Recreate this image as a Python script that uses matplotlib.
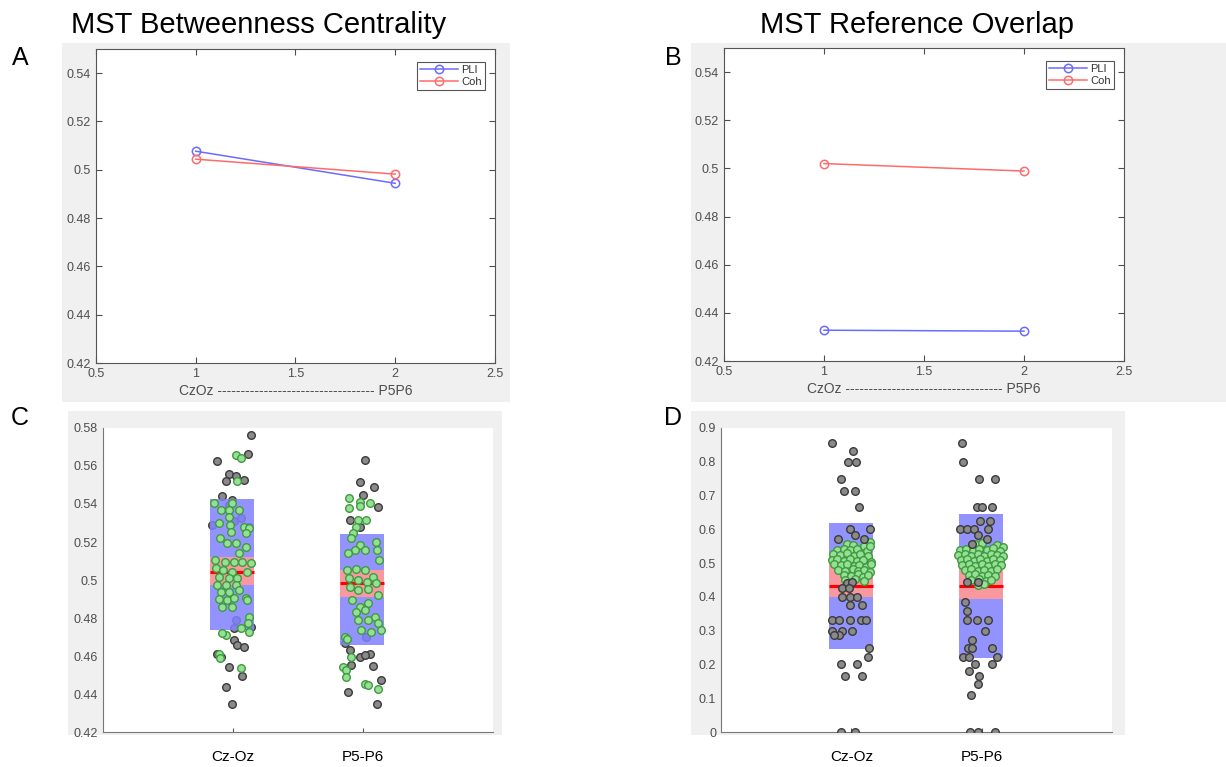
import matplotlib
matplotlib.use('Agg')
import matplotlib.pyplot as plt
from matplotlib.patches import Rectangle

plt.rcParams['font.family'] = ['Liberation Sans', 'DejaVu Sans']

# top panels: mean values per electrode pair
pair_x = [1, 2]
bc_pli = [0.5077, 0.4944]
bc_coh = [0.5044, 0.4982]
ro_pli = [0.4328, 0.4324]
ro_coh = [0.5020, 0.4989]

cats = ['Cz-Oz', 'P5-P6']

# panel C summary: mean, sem band (lo, hi), sd box (lo, hi)
c_mean = [0.5044, 0.4983]
c_sem = [(0.4974, 0.5123), (0.4912, 0.5053)]
c_sd = [(0.4735, 0.5427), (0.4656, 0.5244)]

# panel D summary
d_mean = [0.433, 0.433]
d_sem = [(0.400, 0.530), (0.395, 0.529)]
d_sd = [(0.247, 0.620), (0.220, 0.645)]

# jittered points (offset from category, value)
c_gray1 = [(0.14, 0.5765), (-0.12, 0.5624), (0.117, 0.5665), (-0.031, 0.5557), (0.025, 0.5549),
           (-0.056, 0.5519), (0.084, 0.5528), (-0.087, 0.5440), (-0.005, 0.5422), (-0.158, 0.5290),
           (0.059, 0.5325), (0.008, 0.5308), (0.122, 0.5281), (0.025, 0.4789), (0.008, 0.4745),
           (0.135, 0.4754), (0.008, 0.4684), (0.033, 0.4657), (0.084, 0.4648), (-0.12, 0.4613),
           (-0.094, 0.4596), (-0.031, 0.4543), (-0.051, 0.4438), (-0.005, 0.4350), (0.071, 0.4495),
           (-0.031, 0.5396)]
c_green1 = [(0.02, 0.5656), (0.059, 0.5642), (0.033, 0.5519), (-0.145, 0.5404), (-0.005, 0.5404),
            (-0.094, 0.5369), (-0.031, 0.5369), (0.046, 0.5369), (-0.031, 0.5334), (-0.107, 0.5299),
            (-0.025, 0.5290), (0.084, 0.5281), (0.127, 0.5272), (0.097, 0.5246), (-0.018, 0.5255),
            (-0.102, 0.5220), (-0.043, 0.5197), (0.02, 0.5193), (0.102, 0.5176), (0.046, 0.5141),
            (-0.137, 0.5106), (-0.061, 0.5097), (0.008, 0.5097), (0.071, 0.5097), (0.135, 0.5088),
            (-0.132, 0.5062), (-0.076, 0.5053), (-0.005, 0.5044), (0.109, 0.5044), (-0.107, 0.5018),
            (-0.031, 0.5009), (0.033, 0.5009), (-0.12, 0.4974), (-0.056, 0.4974), (0.02, 0.4974),
            (-0.094, 0.4938), (-0.031, 0.4938), (0.046, 0.4947), (-0.107, 0.4898), (-0.043, 0.4895),
            (0.008, 0.4903), (0.097, 0.4903), (-0.081, 0.4859), (-0.005, 0.4859), (0.109, 0.4895),
            (0.122, 0.4807), (0.117, 0.4772), (0.059, 0.4745), (0.127, 0.4728), (-0.056, 0.4710),
            (-0.081, 0.4719), (-0.107, 0.4613), (-0.102, 0.4587), (0.059, 0.4538)]
c_gray2 = [(0.018, 0.5629), (-0.025, 0.5515), (0.0, 0.5448), (0.084, 0.5492), (0.115, 0.5383),
           (-0.102, 0.5317), (-0.025, 0.5278), (0.025, 0.4701), (-0.14, 0.4666), (-0.102, 0.4631),
           (-0.025, 0.4596), (0.051, 0.4613), (0.013, 0.4604), (0.076, 0.4546), (-0.089, 0.4552),
           (0.135, 0.4473), (-0.115, 0.4411), (0.109, 0.4350)]
c_green2 = [(-0.107, 0.5434), (-0.025, 0.5413), (0.051, 0.5404), (-0.109, 0.5378), (-0.025, 0.5390),
            (-0.038, 0.5317), (0.025, 0.5317), (-0.051, 0.5281), (-0.076, 0.5246), (-0.089, 0.5220),
            (-0.025, 0.5185), (-0.059, 0.5158), (-0.115, 0.5141), (0.013, 0.5158), (0.102, 0.5202),
            (0.109, 0.5158), (0.127, 0.5106), (-0.12, 0.5053), (-0.051, 0.5058), (0.013, 0.5053),
            (0.076, 0.5018), (-0.109, 0.5009), (-0.038, 0.5000), (0.033, 0.4991), (0.102, 0.4983),
            (-0.102, 0.4965), (-0.038, 0.4947), (0.038, 0.4951), (0.115, 0.4921), (-0.084, 0.4895),
            (-0.025, 0.4859), (0.038, 0.4877), (-0.051, 0.4833), (0.013, 0.4842), (0.089, 0.4807),
            (-0.038, 0.4789), (0.038, 0.4789), (0.115, 0.4772), (-0.013, 0.4736), (0.064, 0.4728),
            (0.14, 0.4736), (-0.14, 0.4701), (-0.12, 0.4687), (-0.089, 0.4596), (-0.153, 0.4543),
            (-0.127, 0.4525), (-0.127, 0.4490), (0.013, 0.4455), (0.038, 0.4446), (0.115, 0.4429)]

d_gray1 = [(-0.15, 0.857), (0.015, 0.833), (-0.023, 0.8), (0.038, 0.8), (-0.081, 0.75),
           (-0.056, 0.714), (0.025, 0.714), (0.059, 0.667), (-0.013, 0.6), (0.14, 0.6),
           (-0.099, 0.571), (0.028, 0.583), (0.097, 0.571), (-0.031, 0.44), (0.008, 0.444),
           (-0.069, 0.425), (-0.018, 0.425), (-0.069, 0.4), (-0.013, 0.4), (0.046, 0.4),
           (-0.013, 0.375), (0.084, 0.375), (-0.145, 0.333), (-0.094, 0.333), (-0.013, 0.333),
           (0.071, 0.333), (0.115, 0.333), (-0.145, 0.3), (-0.069, 0.3), (0.003, 0.3),
           (-0.094, 0.286), (-0.13, 0.286), (0.135, 0.25), (0.13, 0.222), (-0.081, 0.2),
           (0.041, 0.2), (-0.051, 0.167), (0.084, 0.167), (-0.081, 0.0), (0.028, 0.0)]
d_gray2 = [(-0.153, 0.857), (-0.145, 0.8), (-0.018, 0.75), (0.102, 0.75), (-0.038, 0.667),
           (0.0, 0.667), (0.076, 0.667), (-0.013, 0.625), (0.064, 0.625), (-0.165, 0.6),
           (-0.115, 0.6), (-0.056, 0.6), (0.051, 0.6), (-0.025, 0.583), (-0.076, 0.556),
           (0.038, 0.571), (-0.115, 0.444), (-0.025, 0.444), (-0.127, 0.385), (-0.115, 0.357),
           (-0.115, 0.333), (-0.038, 0.333), (0.051, 0.333), (0.025, 0.3), (-0.076, 0.273),
           (-0.102, 0.25), (-0.076, 0.25), (0.076, 0.25), (-0.14, 0.222), (-0.097, 0.222),
           (0.12, 0.222), (-0.051, 0.2), (0.076, 0.2), (-0.097, 0.182), (-0.02, 0.167),
           (-0.025, 0.143), (-0.081, 0.111), (-0.089, 0.0), (-0.025, 0.0), (0.102, 0.0)]
d_green1 = [(-0.03, 0.556), (0.01, 0.553), (0.10, 0.550), (0.14, 0.562),
            (-0.11, 0.540), (-0.06, 0.543), (-0.01, 0.538), (0.04, 0.541), (0.12, 0.536),
            (-0.14, 0.527), (-0.09, 0.524), (-0.03, 0.529), (0.02, 0.522), (0.07, 0.526), (0.13, 0.520),
            (-0.15, 0.510), (-0.11, 0.513), (-0.06, 0.507), (-0.01, 0.511), (0.04, 0.505), (0.09, 0.509),
            (0.15, 0.503), (-0.13, 0.496), (-0.08, 0.493), (-0.03, 0.498), (0.02, 0.491), (0.06, 0.495),
            (0.11, 0.489), (0.15, 0.497), (-0.10, 0.481), (-0.05, 0.478), (0.01, 0.483), (0.05, 0.476),
            (0.10, 0.480), (0.14, 0.474), (-0.06, 0.466), (0.0, 0.462), (0.05, 0.468), (0.09, 0.460),
            (0.13, 0.465), (-0.05, 0.449), (0.03, 0.452), (0.10, 0.447), (0.14, 0.550)]
d_green2 = [(-0.05, 0.556), (0.0, 0.559), (0.12, 0.553), (0.16, 0.548),
            (-0.17, 0.540), (-0.12, 0.543), (-0.07, 0.537), (-0.02, 0.541), (0.04, 0.538), (0.09, 0.544),
            (0.14, 0.536), (-0.18, 0.525), (-0.13, 0.528), (-0.08, 0.522), (-0.03, 0.526), (0.02, 0.521),
            (0.07, 0.527), (0.12, 0.523), (0.16, 0.520), (-0.16, 0.510), (-0.11, 0.513), (-0.06, 0.507),
            (-0.01, 0.511), (0.04, 0.506), (0.09, 0.512), (0.14, 0.508), (-0.15, 0.495), (-0.10, 0.498),
            (-0.05, 0.492), (0.0, 0.496), (0.05, 0.491), (0.10, 0.497), (0.15, 0.493), (-0.13, 0.480),
            (-0.08, 0.483), (-0.03, 0.477), (0.02, 0.481), (0.07, 0.476), (0.12, 0.482), (-0.10, 0.465),
            (-0.05, 0.468), (0.0, 0.462), (0.05, 0.466), (0.10, 0.463), (-0.08, 0.450), (-0.02, 0.453),
            (0.03, 0.447), (0.07, 0.451), (-0.03, 0.435), (0.02, 0.438)]

BG = '#f0f0f0'
TICK = '#4d4d4d'
BLUE_LINE = '#6b6bff'
RED_LINE = '#ff6b6b'
BOX_BLUE = (0.5, 0.5, 1.0)
SEM_PINK = (1.0, 0.6, 0.6)
GRAY_FACE, GRAY_EDGE = '#8a8a8a', '#3a3a3a'
GREEN_FACE, GREEN_EDGE = '#96e096', '#3f9a3f'

fig = plt.figure(figsize=(12.26, 7.67), dpi=100)
for r in [(0.0506, 0.4759, 0.3654, 0.4681), (0.5636, 0.4759, 0.4364, 0.4681),
          (0.0555, 0.0417, 0.354, 0.4224), (0.5636, 0.0417, 0.354, 0.4224)]:
    fig.patches.append(Rectangle(r[:2], r[2], r[3], transform=fig.transFigure,
                                 facecolor=BG, edgecolor='none', zorder=-10))

axA = fig.add_axes([0.0783, 0.5267, 0.3254, 0.4094])
axB = fig.add_axes([0.5905, 0.5293, 0.3263, 0.4081])
axC = fig.add_axes([0.0840, 0.0456, 0.3181, 0.3964])
axD = fig.add_axes([0.5881, 0.0456, 0.3189, 0.3964])


def line_panel(ax, pli, coh):
    ax.plot(pair_x, pli, '-o', color=BLUE_LINE, lw=1.1, ms=6, mfc='none', mew=1.1, label='PLI')
    ax.plot(pair_x, coh, '-o', color=RED_LINE, lw=1.1, ms=6, mfc='none', mew=1.1, label='Coh')
    ax.set_xlim(0.5, 2.5)
    ax.set_ylim(0.42, 0.55)
    ax.set_xticks([0.5, 1, 1.5, 2, 2.5])
    ax.set_xticklabels(['0.5', '1', '1.5', '2', '2.5'])
    ax.set_yticks([0.42, 0.44, 0.46, 0.48, 0.5, 0.52, 0.54])
    ax.set_yticklabels(['0.42', '0.44', '0.46', '0.48', '0.5', '0.52', '0.54'])
    ax.tick_params(direction='in', top=True, right=True, labelsize=9, colors=TICK, length=4)
    for s in ax.spines.values():
        s.set_color('#555555')
    ax.set_xlabel('CzOz ' + '-' * 34 + ' P5P6', fontsize=10, color=TICK, labelpad=3)
    leg = ax.legend(loc='upper right', bbox_to_anchor=(0.975, 0.96), fontsize=8, handlelength=3.4,
                    borderpad=0.3, labelspacing=0.15, handletextpad=0.3, borderaxespad=0,
                    fancybox=False, framealpha=1)
    leg.get_frame().set_edgecolor('#555555')
    leg.get_frame().set_linewidth(0.8)
    for t in leg.get_texts():
        t.set_color('#333333')


def dot_panel(ax, means, sems, sds, gray, green, ylim, yticks, ylabels, gray_on_top):
    for i, cat_x in enumerate([1, 2]):
        w = 0.34
        lo, hi = sds[i]
        ax.add_patch(Rectangle((cat_x - w / 2 - 0.005, lo), w, hi - lo, facecolor=BOX_BLUE,
                               edgecolor='none', alpha=0.85, zorder=2))
        lo, hi = sems[i]
        ax.add_patch(Rectangle((cat_x - w / 2 - 0.005, lo), w, hi - lo, facecolor=SEM_PINK,
                               edgecolor='none', alpha=0.95, zorder=2.1))
        ax.plot([cat_x - w / 2 - 0.005, cat_x + w / 2 - 0.005], [means[i], means[i]],
                color='red', lw=2.2, zorder=2.2, solid_capstyle='butt')
        gz, grz = (4, 3) if gray_on_top else (1, 4)
        ax.scatter([cat_x + p[0] for p in gray[i]], [p[1] for p in gray[i]], s=30,
                   facecolor=GRAY_FACE, edgecolor=GRAY_EDGE, linewidths=1, zorder=gz)
        ax.scatter([cat_x + p[0] for p in green[i]], [p[1] for p in green[i]], s=30,
                   facecolor=GREEN_FACE, edgecolor=GREEN_EDGE, linewidths=1, zorder=grz)
    ax.set_xlim(0, 3)
    ax.set_ylim(*ylim)
    ax.set_xticks([1, 2])
    ax.set_xticklabels(cats, fontsize=11, color='black')
    ax.set_yticks(yticks)
    ax.set_yticklabels(ylabels)
    ax.tick_params(axis='y', direction='in', labelsize=9, labelcolor=TICK, length=0)
    ax.tick_params(axis='x', direction='in', length=3, pad=13, colors='#555555', labelcolor='black')
    ax.spines['top'].set_visible(False)
    ax.spines['right'].set_visible(False)
    ax.spines['left'].set_color('#777777')
    ax.spines['bottom'].set_color('#777777')


line_panel(axA, bc_pli, bc_coh)
line_panel(axB, ro_pli, ro_coh)

dot_panel(axC, c_mean, c_sem, c_sd, [c_gray1, c_gray2], [c_green1, c_green2],
          (0.42, 0.58), [0.42 + 0.02 * k for k in range(9)],
          ['0.42', '0.44', '0.46', '0.48', '0.5', '0.52', '0.54', '0.56', '0.58'], False)
dot_panel(axD, d_mean, d_sem, d_sd, [d_gray1, d_gray2], [d_green1, d_green2],
          (0, 0.9), [0.1 * k for k in range(10)],
          ['0', '0.1', '0.2', '0.3', '0.4', '0.5', '0.6', '0.7', '0.8', '0.9'], True)
for ax in (axC, axD):
    for lab in ax.get_xticklabels():
        lab.set_color('black')

fig.text(0.2113, 0.967, 'MST Betweenness Centrality', fontsize=21, ha='center', va='center')
fig.text(0.748, 0.967, 'MST Reference Overlap', fontsize=21, ha='center', va='center')
for letter, x, y in [('A', 0.0163, 0.924), ('B', 0.549, 0.924), ('C', 0.0163, 0.455), ('D', 0.549, 0.455)]:
    fig.text(x, y, letter, fontsize=18, ha='center', va='center')

fig.savefig('out.png', dpi=100)
